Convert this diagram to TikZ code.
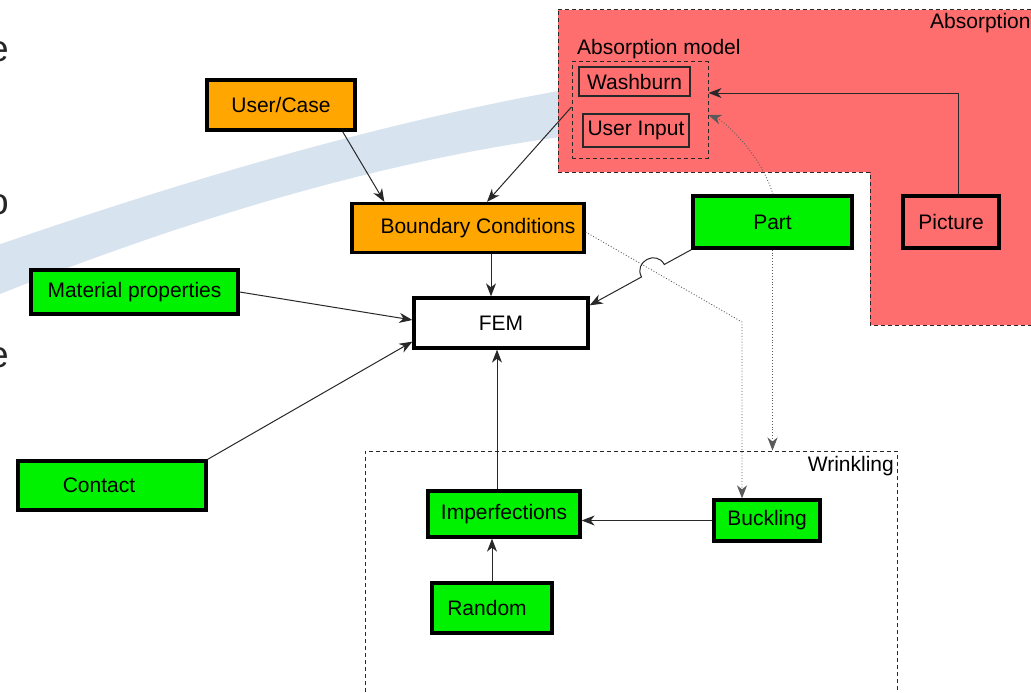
\documentclass[tikz,border=0pt]{standalone}
\usepackage{fontspec}
\setmainfont{Liberation Sans}
\usetikzlibrary{arrows.meta,calc}
\definecolor{orangeC}{RGB}{255,166,0}
\definecolor{greenC}{RGB}{0,242,0}
\definecolor{redC}{RGB}{255,110,110}
\definecolor{swooshC}{RGB}{216,227,240}
\definecolor{lineC}{RGB}{40,40,40}
\definecolor{dotC}{RGB}{90,90,90}
\begin{document}
\begin{tikzpicture}[x=1pt,y=-1pt,
  font=\fontsize{21}{24}\selectfont,
  thickbox/.style={draw=black,line width=3.3pt,inner sep=0pt},
  obox/.style={thickbox,fill=orangeC},
  gbox/.style={thickbox,fill=greenC},
  thinbox/.style={draw=lineC,line width=1.2pt,inner sep=0pt},
  dashbox/.style={draw=lineC,line width=1pt,dash pattern=on 4pt off 3pt,inner sep=0pt},
  tip/.style={-{Stealth[length=13pt,width=10pt,inset=4pt]}},
  arr/.style={draw=lineC,line width=1pt,tip},
  dotarr/.style={draw=dotC,line width=0.9pt,dotted,tip},
  bigletter/.style={inner sep=0pt,text=black!85,font=\fontsize{37}{40}\selectfont}]
\useasboundingbox (0,0) rectangle (1031,693);
\clip (0,0) rectangle (1031,693);
\fill[white] (0,0) rectangle (1031,693);
% background swoosh of the slide
\fill[swooshC] (-5,246) .. controls (180,182) and (380,122) .. (575,88)
  -- (575,135) .. controls (380,160) and (180,222) .. (-5,296) -- cycle;
% partial slide letters
\node[bigletter,anchor=east] (l1) at (9,52) {e};
\node[bigletter,anchor=east] (l2) at (9,205) {o};
\node[bigletter,anchor=east] (l3) at (9,358) {e};
% Absorption region
\draw[fill=redC,draw=lineC,line width=1pt,dash pattern=on 4pt off 3pt]
  (558,10) -- (1040,10) -- (1040,325) -- (870,325) -- (870,172) -- (558,172) -- cycle;
\node[anchor=base west,inner sep=0pt] (abslab) at (930,29) {Absorption};
\node[anchor=base west,inner sep=0pt] (absmodlab) at (577,55) {Absorption model};
\node[dashbox,minimum width=136pt,minimum height=96pt] (absmodel) at (640,110) {};
\node[thinbox,minimum width=111pt,minimum height=29pt] (washburn) at (634.5,81.5) {Washburn};
\node[thinbox,minimum width=106pt,minimum height=33pt] (userinput) at (636,130.5) {User Input};
\node[thickbox,fill=redC,minimum width=96pt,minimum height=52pt] (picture) at (951,222) {Picture};
% Wrinkling region
\node[dashbox,minimum width=532pt,minimum height=260pt] (wrinkling) at (631,581) {};
\node[anchor=base east,inner sep=0pt] (wrlab) at (894,471) {Wrinkling};
% main nodes
\node[obox,minimum width=148pt,minimum height=50pt] (usercase) at (281,105) {User/Case};
\node[obox,minimum width=232pt,minimum height=49pt] (bc) at (468,228) {\hspace*{20pt}Boundary Conditions};
\node[gbox,minimum width=207pt,minimum height=44pt] (matprop) at (134.5,292) {Material properties};
\node[thickbox,fill=white,minimum width=174pt,minimum height=50pt] (fem) at (501,323) {FEM};
\node[gbox,minimum width=188pt,minimum height=49pt] (contact) at (112,485.5) {Contact\hspace*{26pt}};
\node[gbox,minimum width=159pt,minimum height=52pt] (part) at (772.5,222) {Part};
\node[gbox,minimum width=152pt,minimum height=46pt] (imperf) at (504,514) {Imperfections};
\node[gbox,minimum width=106pt,minimum height=41pt] (buckling) at (767,520.5) {Buckling};
\node[gbox,minimum width=120pt,minimum height=50pt] (random) at (492,608) {Random\hspace*{10pt}};
% connectors
\draw[arr] ($(usercase.south east)+(-14,0)$) -- ($(bc.north west)+(34,0)$);
\draw[arr] ($(absmodel.west)+(0,-3)$) -- ($(bc.north)+(19,0)$);
\draw[arr] ($(bc.south)+(23,0)$) -- ($(fem.north)+(-10,0)$);
\draw[arr] (matprop.east) -- ($(fem.west)+(0,-3)$);
\draw[arr] (contact.north east) -- ($(fem.south west)+(0,-8)$);
\draw[arr] ($(imperf.north)+(-7,0)$) -- ($(fem.south)+(-4,0)$);
\draw[arr] (buckling.west) -- (buckling.west -| imperf.east);
\draw[arr] (random.north) -- (random.north |- imperf.south);
\draw[arr] ($(picture.north)+(7,0)$) |- ($(absmodel.east)+(0,-17)$);
\draw[dotarr] ($(part.north)+(0.5,0)$) .. controls +(-12,-40) and +(16,6) .. ($(absmodel.east)+(0,5)$);
% dotted BC -> Buckling
\coordinate (ba) at ($(bc.east)+(0,4)$);
\coordinate (bend1) at (742,322);
\draw[dotarr] (ba) -- (bend1) -- (bend1 |- buckling.north);
\draw[dotarr] (part.south) -- (part.south |- wrinkling.north);
% Part -> FEM with a hop over the dotted line
\coordinate (pa) at (part.south west);
\coordinate (fa) at ($(fem.north east)+(0,9)$);
\coordinate (H) at (intersection of pa--fa and ba--bend1);
\coordinate (h1) at ($(H)!13pt!(pa)$);
\coordinate (h2) at ($(H)!13pt!(fa)$);
\coordinate (c1) at ($(h1)!17pt!-90:(H)$);
\coordinate (c2) at ($(h2)!17pt!90:(H)$);
\draw[arr] (pa) -- (h1) .. controls (c1) and (c2) .. (h2) -- (fa);
\end{tikzpicture}
\end{document}
